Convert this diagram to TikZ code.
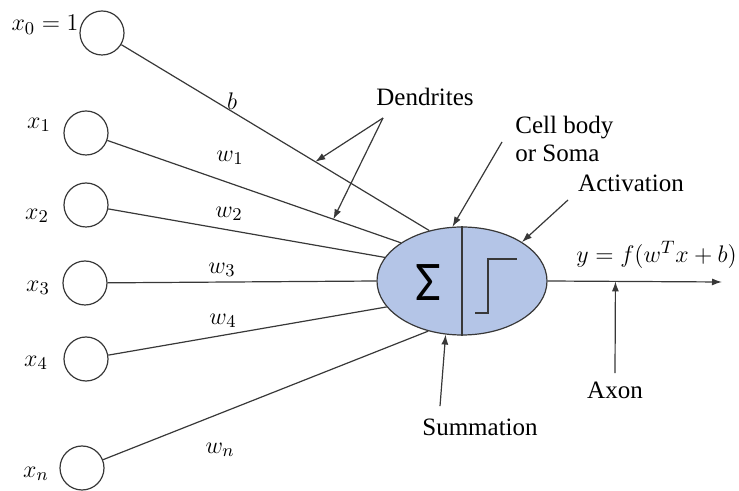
\documentclass[tikz,border=0pt]{standalone}
\usepackage{fontspec}
\setmainfont{Liberation Serif}
\newfontfamily\sigmafont{Carlito}
\usetikzlibrary{positioning, shapes.geometric, arrows.meta}
\definecolor{somaFill}{RGB}{180,197,231}
\colorlet{ink}{black!78}
\tikzset{
  input/.style  ={draw=ink, circle, minimum size=22pt, inner sep=0pt,
                  line width=0.6pt},
  soma/.style   ={draw=ink, ellipse, fill=somaFill, minimum width=85pt,
                  minimum height=54pt, inner sep=0pt, line width=0.6pt},
  lbl/.style    ={font=\fontsize{12.5}{14}\selectfont, inner sep=1pt},
  wlbl/.style   ={lbl},
  link/.style   ={-, ink, line width=0.6pt},
  pointer/.style={-{Latex[length=5pt,width=3.5pt]}, ink, line width=0.6pt},
}

\begin{document}
\begin{tikzpicture}[x=0.5pt, y=-0.5pt]
\useasboundingbox (0,0) rectangle (739,491);

% inputs
\node[input] (x0) at (102,33)  {};
\node[input] (x1) at (86,133)  {};
\node[input] (x2) at (86,205)  {};
\node[input] (x3) at (85,283)  {};
\node[input] (x4) at (86,359)  {};
\node[input] (xn) at (82,468)  {};
\node[lbl] (lx0) at (45,25)  {$x_0 = 1$};
\node[lbl] (lx1) at (39,125) {$x_1$};
\node[lbl] (lx2) at (37,216) {$x_2$};
\node[lbl] (lx3) at (38,288) {$x_3$};
\node[lbl] (lx4) at (36,363) {$x_4$};
\node[lbl] (lxn) at (36,474) {$x_n$};

% cell body
\node[soma] (soma) at (462,281) {};
\draw[link] (soma.north) -- (soma.south);
\node[font=\sigmafont\fontsize{28}{28}\selectfont, inner sep=0pt] (sig)
  at (428,283) {Σ};
\draw[link] (475,313) -- (488,313) -- (488,259) -- (517,259);

% weighted links
\draw[link] (x0) -- (soma.123) coordinate[pos=0.63] (dA);
\draw[link] (x1) -- (soma.148) coordinate[pos=0.77] (dB);
\draw[link] (x2) -- (soma.163);
\draw[link] (x3) -- (soma.west);
\draw[link] (x4) -- (soma.199);
\draw[link] (xn) -- (soma.236);
\node[wlbl] (wb) at (232,101) {$b$};
\node[wlbl] (w1) at (230,158) {$w_1$};
\node[wlbl] (w2) at (229,214) {$w_2$};
\node[wlbl] (w3) at (222,270) {$w_3$};
\node[wlbl] (w4) at (223,321) {$w_4$};
\node[wlbl] (wn) at (220,450) {$w_n$};

% output
\coordinate (yend) at (722,282);
\draw[pointer] (soma.east) -- (yend) coordinate[pos=0.389] (ax);
\node[lbl, anchor=west] (out) at (574,255) {$y = f(w^T x + b)$};

% annotations
\node[lbl] (dend) at (425,97) {Dendrites};
\coordinate (dfork) at (383,118);
\draw[pointer] (dfork) -- (dA);
\draw[pointer] (dfork) -- (dB);

\node[lbl, align=left, anchor=west] (cell) at (513,139) {Cell body\\or Soma};
\coordinate (ctail) at (502,142);
\draw[pointer] (ctail) -- (soma.100);

\node[lbl] (act) at (631,183) {Activation};
\coordinate (atail) at (568,200);
\draw[pointer] (atail) -- (soma.33);

\node[lbl] (axon) at (615,390) {Axon};
\draw[pointer] ([yshift=3pt]axon.north) -- (ax);

\node[lbl] (sum) at (480,427) {Summation};
\draw[pointer] ([xshift=-20pt, yshift=5pt]sum.north) -- (soma.253);

\end{tikzpicture}
\end{document}
